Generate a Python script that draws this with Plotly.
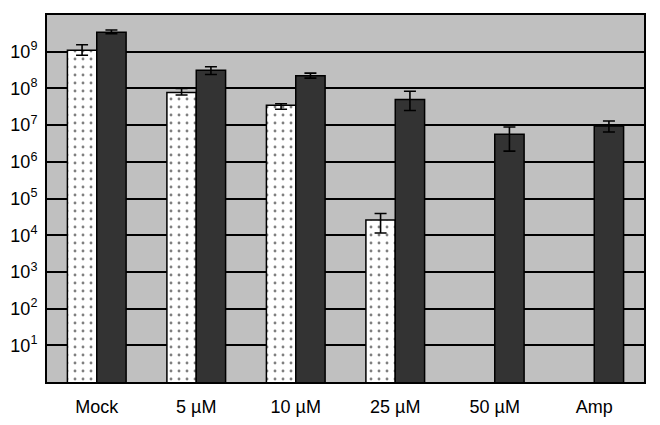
import plotly.graph_objects as go

# Data (log scale)
categories = ["Mock", "5 µM", "10 µM", "25 µM", "50 µM", "Amp"]

dotted = [1.1e9, 7.7e7, 3.5e7, 2.6e4, None, None]
dotted_hi = [1.55e9, 1.0e8, 3.8e7, 3.9e4, None, None]
dotted_lo = [8.0e8, 6.6e7, 2.7e7, 1.15e4, None, None]

dark = [3.4e9, 3.1e8, 2.2e8, 5.0e7, 5.6e6, 9.5e6]
dark_hi = [3.9e9, 3.9e8, 2.6e8, 8.4e7, 8.9e6, 1.29e7]
dark_lo = [3.1e9, 2.4e8, 1.9e8, 2.5e7, 1.95e6, 6.5e6]

tick_vals = [10 ** k for k in range(1, 10)]
tick_text = ["10<sup>%d</sup>" % k for k in range(1, 10)]


def err(vals, hi, lo):
    plus = [h - v if v is not None else None for v, h in zip(vals, hi)]
    minus = [v - l if v is not None else None for v, l in zip(vals, lo)]
    return dict(type="data", array=plus, arrayminus=minus, visible=True,
                color="black", thickness=1.6, width=6)


fig = go.Figure()
fig.add_trace(go.Bar(
    x=categories, y=dotted, name="dotted",
    marker=dict(color="white", line=dict(color="black", width=1.5),
                pattern=dict(shape=".", fgcolor="black", bgcolor="white",
                             size=8, solidity=0.1)),
    error_y=err(dotted, dotted_hi, dotted_lo),
))
fig.add_trace(go.Bar(
    x=categories, y=dark, name="dark",
    marker=dict(color="#333333", line=dict(color="black", width=1.5)),
    error_y=err(dark, dark_hi, dark_lo),
))

# the page body adds an 8px margin, so the figure is shrunk by that amount
fig.update_layout(
    width=652, height=417,
    margin=dict(l=39, r=16, t=7, b=43),
    paper_bgcolor="white", plot_bgcolor="#c0c0c0",
    barmode="group", bargap=0.41, bargroupgap=0,
    showlegend=False,
    font=dict(family="Liberation Sans, Arial, sans-serif", size=18, color="black"),
)
fig.update_xaxes(
    automargin=False,
    showline=True, linecolor="black", linewidth=2, mirror=True,
    showgrid=False, ticks="outside", ticklen=7, tickcolor="rgba(0,0,0,0)",
    tickfont=dict(size=18),
)
fig.update_yaxes(
    automargin=False,
    type="log", range=[0, 10],
    tickvals=tick_vals, ticktext=tick_text,
    showgrid=True, gridcolor="black", gridwidth=1.6,
    showline=True, linecolor="black", linewidth=2, mirror=True,
    ticks="outside", ticklen=4, tickcolor="rgba(0,0,0,0)",
    tickfont=dict(size=18), zeroline=False,
)

fig.write_html("out.html")
